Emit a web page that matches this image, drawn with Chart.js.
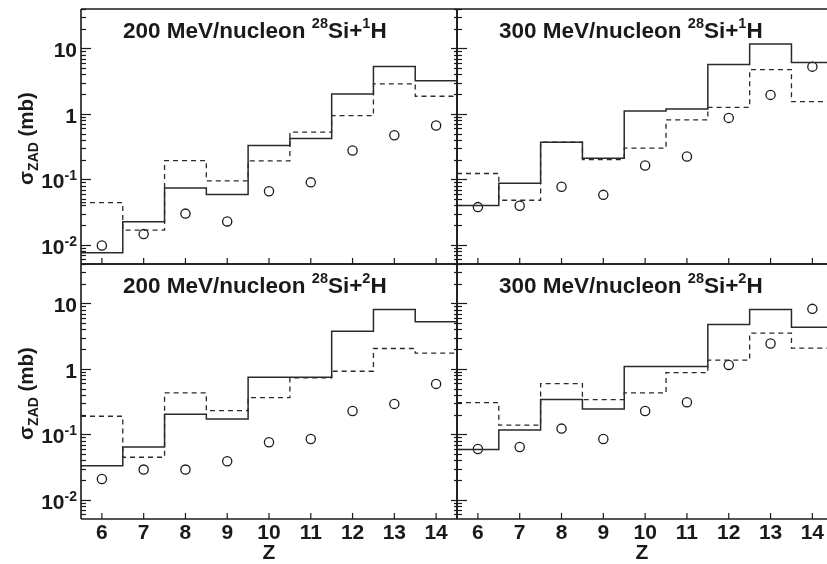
<!DOCTYPE html>
<html>
<head>
<meta charset="utf-8">
<script src="https://cdn.jsdelivr.net/npm/chart.js@4"></script>
<style>
body{margin:0;background:#fff;}
#wrap{position:relative;width:827px;height:564px;overflow:hidden;}
#wrap canvas{position:absolute;left:0;top:0;}
</style>
</head>
<body>
<div id="wrap">
<canvas id="c1" width="827" height="564"></canvas>
<canvas id="c2" width="827" height="564"></canvas>
<canvas id="c3" width="827" height="564"></canvas>
<canvas id="c4" width="827" height="564"></canvas>
</div>
<script>
// ============================== DATA ==============================
const zVals = [6, 7, 8, 9, 10, 11, 12, 13, 14];
const energies = ["200", "300"];
const targets = ["1", "2"];

// 200 MeV/nucleon 28Si + 1H
const solid200H1 = [0.0076, 0.0225, 0.074, 0.059, 0.33, 0.42, 2.02, 5.3, 3.2];
const dashed200H1 = [0.044, 0.0168, 0.194, 0.095, 0.192, 0.525, 0.94, 2.87, 1.86];
const meas200H1 = [0.0098, 0.0146, 0.030, 0.0228, 0.066, 0.090, 0.276, 0.473, 0.664];

// 300 MeV/nucleon 28Si + 1H
const solid300H1 = [0.040, 0.0876, 0.37, 0.211, 1.11, 1.19, 5.7, 11.7, 6.07];
const dashed300H1 = [0.123, 0.048, 0.37, 0.201, 0.30, 0.81, 1.26, 4.74, 1.54];
const meas300H1 = [0.0377, 0.0395, 0.077, 0.058, 0.163, 0.223, 0.869, 1.95, 5.27];

// 200 MeV/nucleon 28Si + 2H
const solid200H2 = [0.0333, 0.0643, 0.203, 0.172, 0.746, 0.746, 3.76, 8.07, 5.23];
const dashed200H2 = [0.189, 0.0447, 0.43, 0.231, 0.365, 0.73, 0.92, 2.05, 1.74];
const meas200H2 = [0.0208, 0.029, 0.029, 0.0388, 0.0757, 0.0852, 0.228, 0.292, 0.59];

// 300 MeV/nucleon 28Si + 2H
const solid300H2 = [0.0585, 0.117, 0.34, 0.245, 1.09, 1.09, 4.76, 8.07, 4.33];
const dashed300H2 = [0.306, 0.138, 0.597, 0.34, 0.43, 0.879, 1.36, 3.51, 2.07];
const meas300H2 = [0.0599, 0.0643, 0.1225, 0.0851, 0.228, 0.31, 1.15, 2.44, 8.26];

const yTickVals = [10, 1, 0.1, 0.01];
const yTickExp = ["", "", "-1", "-2"];
const yTickBase = ["10", "1", "10", "10"];

// ============================== HELPERS ==============================
const FONT = '"Liberation Sans", Arial, sans-serif';
const INK = "#1a1a1a";

// histogram steps from bin centres
function steps(vals){
  const pts = zVals.map((z, i) => ({x: z - 0.5, y: vals[i]}));
  pts.push({x: zVals[zVals.length - 1] + 0.5, y: vals[vals.length - 1]});
  return pts;
}

function points(vals){
  return zVals.map((z, i) => ({x: z, y: vals[i]}));
}

// text made of parts, some raised or lowered
function richWidth(ctx, parts, size, small){
  let w = 0;
  parts.forEach(p => {
    ctx.font = "bold " + (p.sup || p.sub ? small : size) + "px " + FONT;
    w += ctx.measureText(p.t).width;
  });
  return w;
}

function drawRich(ctx, parts, x, y, size, small, supDy, subDy){
  let cx = x;
  parts.forEach(p => {
    ctx.font = "bold " + (p.sup || p.sub ? small : size) + "px " + FONT;
    const dy = p.sup ? -supDy : (p.sub ? subDy : 0);
    ctx.fillText(p.t, cx, y + dy);
    cx += ctx.measureText(p.t).width;
  });
}

function line(ctx, x1, y1, x2, y2){
  ctx.beginPath();
  ctx.moveTo(x1, y1);
  ctx.lineTo(x2, y2);
  ctx.stroke();
}

// ============================== FRAME PLUGIN ==============================
const framePlugin = {
  id: "frame",
  afterDatasetsDraw(chart, args, o){
    const {ctx, chartArea: a, scales: {x, y}} = chart;
    ctx.save();
    ctx.strokeStyle = INK;
    ctx.fillStyle = INK;

    // x ticks, pointing in
    ctx.lineWidth = 1.2;
    zVals.forEach(z => {
      const px = x.getPixelForValue(z);
      line(ctx, px, a.bottom, px, a.bottom - 6);
    });

    // y ticks, major and minor
    for(let e = -3; e <= 1; e++){
      for(let m = 1; m <= 9; m++){
        const v = m * Math.pow(10, e);
        if(v < y.min || v > y.max) continue;
        const py = Math.round(y.getPixelForValue(v)) + 0.5;
        const len = m === 1 ? 10 : 5;
        line(ctx, a.left, py, a.left + len, py);
        if(o.col === 0) line(ctx, a.right, py, a.right - len * 0.6, py);
      }
    }

    // frame
    ctx.lineWidth = 1.6;
    line(ctx, a.left, a.top, a.right, a.top);
    line(ctx, a.left, a.bottom, a.right, a.bottom);
    line(ctx, a.left, a.top, a.left, a.bottom);
    if(o.col === 0) line(ctx, a.right, a.top, a.right, a.bottom);

    // panel title
    ctx.textBaseline = "alphabetic";
    ctx.textAlign = "left";
    const title = [
      {t: o.energy + " MeV/nucleon "},
      {t: "28", sup: true},
      {t: "Si+"},
      {t: o.target, sup: true},
      {t: "H"}
    ];
    drawRich(ctx, title, a.left + 42, a.top + 28.5, 22.5, 14.5, 10, 0);

    // y labels and title only on the left column
    if(o.col === 0){
      yTickVals.forEach((v, i) => {
        const parts = [{t: yTickBase[i]}];
        if(yTickExp[i]) parts.push({t: yTickExp[i], sup: true});
        const w = richWidth(ctx, parts, 21, 14);
        const py = y.getPixelForValue(v);
        drawRich(ctx, parts, 77 - w, py + 9, 21, 14, 8, 0);
      });

      const yt = [{t: "\u03c3"}, {t: "ZAD", sub: true}, {t: " (mb)"}];
      const w = richWidth(ctx, yt, 20.5, 14);
      const cy = (a.top + a.bottom) / 2 + 2;
      ctx.translate(33, cy);
      ctx.rotate(-Math.PI / 2);
      drawRich(ctx, yt, -w / 2, 0, 20.5, 14, 0, 5);
    }
    ctx.restore();
  }
};

// ============================== PANELS ==============================
function makePanel(id, col, row, solid, dashed, meas){
  const xAxis = {
    type: "linear",
    min: 5.5,
    max: col === 0 ? 14.5 : 14.35,
    display: row === 1,
    grid: {display: false, drawTicks: false},
    border: {display: false},
    ticks: {
      color: INK,
      font: {family: FONT, size: 21, weight: "bold"},
      padding: 2,
      maxRotation: 0,
      autoSkip: false
    },
    title: {
      display: true,
      text: "Z",
      color: INK,
      font: {family: FONT, size: 21, weight: "bold", lineHeight: 1},
      padding: {top: 0, bottom: 0}
    },
    afterBuildTicks: s => { s.ticks = zVals.map(v => ({value: v})); },
    afterFit: s => {
      s.height = row === 1 ? 45 : 0;
      s.paddingLeft = 0;
      s.paddingRight = 0;
    }
  };

  new Chart(document.getElementById(id), {
    type: "line",
    data: {
      datasets: [
        {
          data: steps(solid),
          borderColor: "#2a2a2a",
          borderWidth: 1.5,
          pointRadius: 0,
          stepped: "before",
          fill: false
        },
        {
          data: steps(dashed),
          borderColor: "#2a2a2a",
          borderWidth: 1.3,
          borderDash: [5, 4],
          pointRadius: 0,
          stepped: "before",
          fill: false
        },
        {
          data: points(meas),
          showLine: false,
          pointStyle: "circle",
          pointRadius: 4.6,
          pointBorderWidth: 1.3,
          pointBorderColor: INK,
          pointBackgroundColor: "rgba(0,0,0,0)"
        }
      ]
    },
    options: {
      responsive: false,
      animation: false,
      events: [],
      layout: {
        autoPadding: false,
        padding: {
          left: col === 0 ? 81 : 457,
          right: col === 0 ? 370 : 0,
          top: row === 0 ? 9 : 264,
          bottom: row === 0 ? 300 : 0
        }
      },
      scales: {
        x: xAxis,
        y: {type: "logarithmic", min: 0.0051, max: 40, display: false}
      },
      plugins: {
        legend: {display: false},
        tooltip: {enabled: false},
        frame: {col: col, energy: energies[col], target: targets[row]}
      }
    },
    plugins: [framePlugin]
  });
}

makePanel("c1", 0, 0, solid200H1, dashed200H1, meas200H1);
makePanel("c2", 1, 0, solid300H1, dashed300H1, meas300H1);
makePanel("c3", 0, 1, solid200H2, dashed200H2, meas200H2);
makePanel("c4", 1, 1, solid300H2, dashed300H2, meas300H2);
</script>
</body>
</html>
